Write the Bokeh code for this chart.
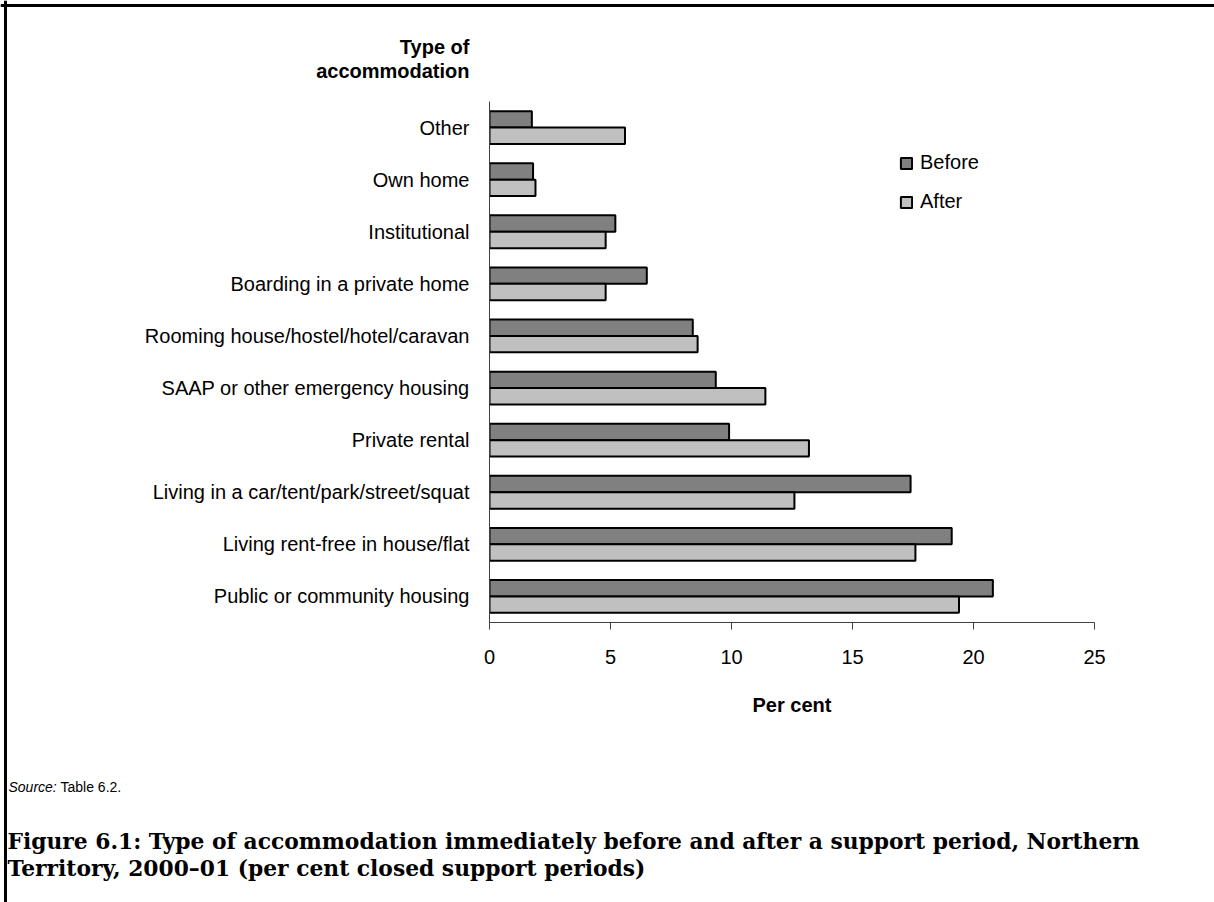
from bokeh.plotting import figure
from bokeh.layouts import column
from bokeh.models import (FactorRange, Range1d, Label, Legend, LegendItem,
                          ColumnDataSource, FixedTicker, Span, GridBox)
from bokeh.transform import dodge
from bokeh.embed import file_html
from bokeh.resources import INLINE

# ---------------- data ----------------
categories = [
    "Other",
    "Own home",
    "Institutional",
    "Boarding in a private home",
    "Rooming house/hostel/hotel/caravan",
    "SAAP or other emergency housing",
    "Private rental",
    "Living in a car/tent/park/street/squat",
    "Living rent-free in house/flat",
    "Public or community housing",
]
before = [1.75, 1.8, 5.2, 6.5, 8.4, 9.35, 9.9, 17.4, 19.1, 20.8]
after = [5.6, 1.9, 4.8, 4.8, 8.6, 11.4, 13.2, 12.6, 17.6, 19.4]
series_names = ["Before", "After"]
x_ticks = [0, 5, 10, 15, 20, 25]
x_max = 25

# ---------------- layout ----------------
W, H = 1214, 902
FL, FR, FT, FB = 489, 1094, 101, 622   # chart frame edges in pixels
FONT = "Liberation Sans"
CAP = "DejaVu Serif"

# background page: texts outside the chart and the page frame lines
bg = figure(width=W, height=H, x_range=Range1d(0, W), y_range=Range1d(H, 0),
            output_backend="svg", toolbar_location=None,
            x_axis_type=None, y_axis_type=None,
            min_border_left=0, min_border_right=0,
            min_border_top=0, min_border_bottom=0)
bg.outline_line_color = None
bg.grid.visible = False
bg.background_fill_color = "white"
bg.border_fill_color = "white"

bg.add_layout(Span(location=5, dimension="width", line_color="black", line_width=3))
bg.add_layout(Span(location=5, dimension="height", line_color="black", line_width=3))


def add_text(text, px, py, size, font=FONT, style="normal", align="left"):
    bg.add_layout(Label(x=px, y=py, text=text, text_font=font,
                        text_font_size=size, text_font_style=style,
                        text_align=align, text_baseline="middle",
                        text_color="black"))


add_text("Type of", 469, 46, "20px", style="bold", align="right")
add_text("accommodation", 469, 70, "20px", style="bold", align="right")
add_text("Source:", 8, 786, "14px", style="italic")
add_text("Table 6.2.", 60, 786, "14px")
add_text("Figure 6.1: Type of accommodation immediately before and after a support period, Northern",
         7, 841, "21.8px", font=CAP, style="bold")
add_text("Territory, 2000\u201301 (per cent closed support periods)",
         7, 868, "21.8px", font=CAP, style="bold")

# chart
p = figure(width=W, height=H,
           y_range=FactorRange(factors=categories[::-1], range_padding=0),
           x_range=Range1d(0, x_max),
           output_backend="svg", toolbar_location=None,
           min_border_left=FL, min_border_right=W - FR,
           min_border_top=FT, min_border_bottom=H - FB)
p.outline_line_color = None
p.grid.visible = False
p.background_fill_alpha = 0
p.border_fill_alpha = 0

src = ColumnDataSource(dict(cat=categories, before=before, after=after))
bh = 0.315
r1 = p.hbar(y=dodge("cat", bh / 2, range=p.y_range), left=0, right="before",
            height=bh, source=src, fill_color="#808080",
            line_color="black", line_width=2)
r2 = p.hbar(y=dodge("cat", -bh / 2, range=p.y_range), left=0, right="after",
            height=bh, source=src, fill_color="#c0c0c0",
            line_color="black", line_width=2)

xa = p.xaxis[0]
xa.ticker = FixedTicker(ticks=x_ticks)
xa.major_tick_out = 7
xa.major_tick_in = 0
xa.minor_tick_out = 0
xa.minor_tick_in = 0
xa.axis_line_color = "#404040"
xa.major_tick_line_color = "#404040"
xa.major_label_text_font = FONT
xa.major_label_text_font_size = "20px"
xa.major_label_text_color = "black"
xa.major_label_standoff = 20
xa.axis_label = "Per cent"
xa.axis_label_text_font = FONT
xa.axis_label_text_font_size = "20px"
xa.axis_label_text_font_style = "bold"
xa.axis_label_text_color = "black"
xa.axis_label_standoff = 27

ya = p.yaxis[0]
ya.major_tick_out = 0
ya.major_tick_in = 0
ya.minor_tick_out = 0
ya.axis_line_color = "#404040"
ya.major_label_text_font = FONT
ya.major_label_text_font_size = "20px"
ya.major_label_text_color = "black"
ya.major_label_standoff = 20

legend = Legend(items=[LegendItem(label=series_names[0], renderers=[r1]),
                       LegendItem(label=series_names[1], renderers=[r2])],
                location=(899 - FL, FB - 213),
                border_line_color=None, background_fill_alpha=0,
                padding=0, margin=0, spacing=16,
                glyph_width=14, glyph_height=14, label_height=20,
                label_standoff=7, label_text_color="black",
                label_text_font=FONT, label_text_font_size="20px")
p.add_layout(legend)

layout = GridBox(children=[(column(bg), 0, 0), (p, 0, 0)])
open("out.html", "w").write(file_html(layout, INLINE))
